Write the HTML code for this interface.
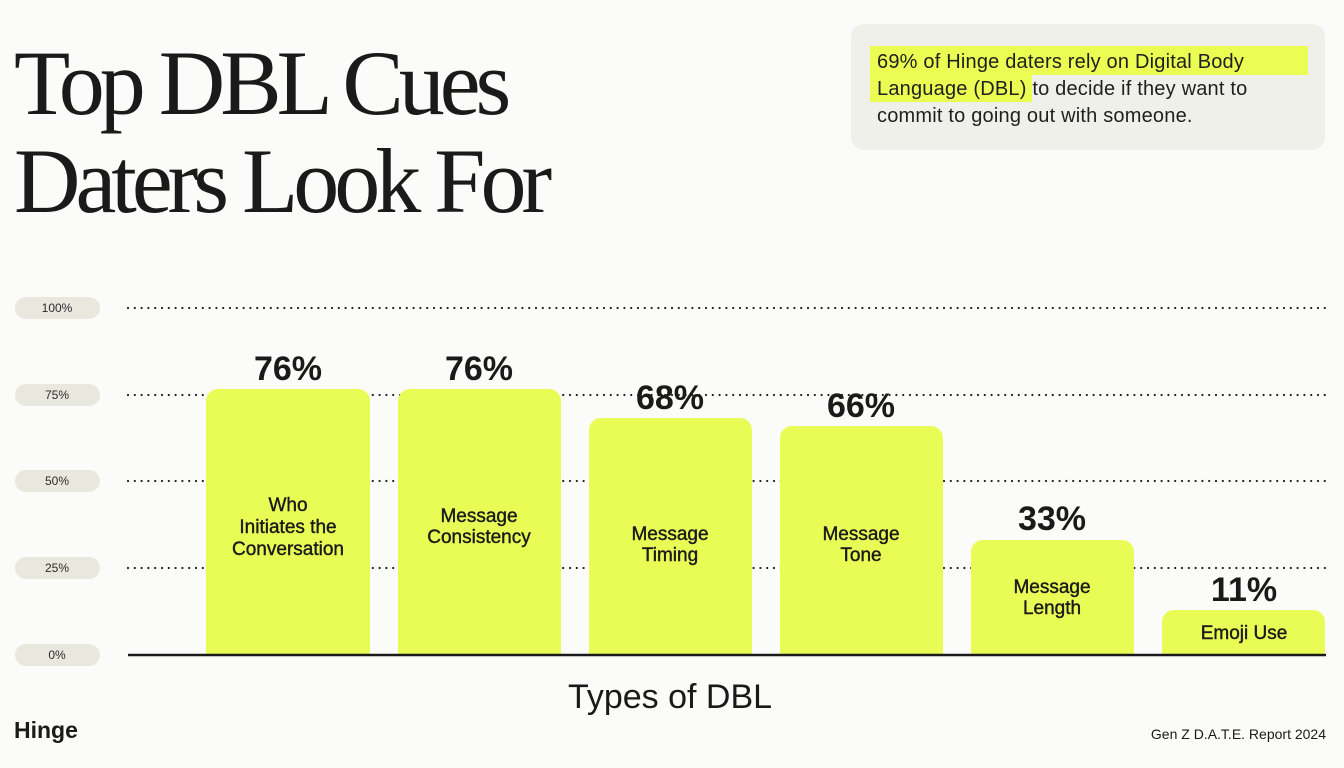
<!DOCTYPE html>
<html><head><meta charset="utf-8"><style>
html,body{margin:0;padding:0;background:#fbfbf9;}
svg{display:block;}
</style></head><body>
<svg width="1344" height="768" viewBox="0 0 1344 768" xmlns="http://www.w3.org/2000/svg" font-family="Liberation Sans, sans-serif">
<rect width="1344" height="768" fill="#fbfbf9"/>
<g font-family="Liberation Serif, serif" font-size="92" fill="#1a1a1a" letter-spacing="-5">
<text x="14" y="114">Top DBL Cues</text>
<text x="14" y="212">Daters Look For</text>
</g>
<rect x="851" y="24" width="474" height="126" rx="13" fill="#f0f0ea"/>
<rect x="870" y="46" width="438" height="29" fill="#ebfc52"/>
<rect x="870" y="74" width="162" height="28" fill="#ebfc52"/>
<g font-size="20" fill="#1f1f1f" letter-spacing="0.2">
<text x="877" y="68">69% of Hinge daters rely on Digital Body</text>
<text x="877" y="95">Language (DBL) to decide if they want to</text>
<text x="877" y="122">commit to going out with someone.</text>
</g>
<g fill="#e8e8df">
<rect x="15" y="297" width="85" height="22" rx="11"/>
<rect x="15" y="384" width="85" height="22" rx="11"/>
<rect x="15" y="470" width="85" height="22" rx="11"/>
<rect x="15" y="557" width="85" height="22" rx="11"/>
<rect x="15" y="644" width="85" height="22" rx="11"/>
</g>
<g font-size="12" fill="#2a2a2a" text-anchor="middle">
<text x="57" y="312">100%</text>
<text x="57" y="399">75%</text>
<text x="57" y="485">50%</text>
<text x="57" y="572">25%</text>
<text x="57" y="659">0%</text>
</g>
<g stroke="#222" stroke-width="2.2" stroke-dasharray="0 6.8" stroke-linecap="round">
<line x1="128" y1="308" x2="1330" y2="308"/>
<line x1="128" y1="395" x2="1330" y2="395"/>
<line x1="128" y1="481" x2="1330" y2="481"/>
<line x1="128" y1="568" x2="1330" y2="568"/>
</g>
<g fill="#e9fc55">
<path d="M206 655V401a12 12 0 0 1 12-12h140a12 12 0 0 1 12 12V655z"/>
<path d="M398 655V401a12 12 0 0 1 12-12h139a12 12 0 0 1 12 12V655z"/>
<path d="M589 655V430a12 12 0 0 1 12-12h139a12 12 0 0 1 12 12V655z"/>
<path d="M780 655V438a12 12 0 0 1 12-12h139a12 12 0 0 1 12 12V655z"/>
<path d="M971 655V552a12 12 0 0 1 12-12h139a12 12 0 0 1 12 12V655z"/>
<path d="M1162 655V622a12 12 0 0 1 12-12h139a12 12 0 0 1 12 12V655z"/>
</g>
<line x1="128" y1="655" x2="1326" y2="655" stroke="#1a1a1a" stroke-width="2.5"/>
<g font-size="34" font-weight="bold" fill="#1a1a1a" text-anchor="middle">
<text x="288" y="380">76%</text>
<text x="479" y="380">76%</text>
<text x="670" y="409">68%</text>
<text x="861" y="417">66%</text>
<text x="1052" y="530">33%</text>
<text x="1244" y="601">11%</text>
</g>
<g font-size="19" fill="#1a1a1a" text-anchor="middle" stroke="#1a1a1a" stroke-width="0.4">
<text x="288" y="511">Who</text>
<text x="288" y="533">Initiates the</text>
<text x="288" y="555">Conversation</text>
<text x="479" y="522">Message</text>
<text x="479" y="543">Consistency</text>
<text x="670" y="540">Message</text>
<text x="670" y="561">Timing</text>
<text x="861" y="540">Message</text>
<text x="861" y="561">Tone</text>
<text x="1052" y="593">Message</text>
<text x="1052" y="614">Length</text>
<text x="1244" y="639">Emoji Use</text>
</g>
<text x="670" y="708" font-size="34" fill="#1a1a1a" text-anchor="middle">Types of DBL</text>
<text x="14" y="738" font-size="23" font-weight="bold" fill="#1a1a1a">Hinge</text>
<text x="1326" y="739" font-size="14" fill="#1a1a1a" text-anchor="end">Gen Z D.A.T.E. Report 2024</text>
</svg>
</body></html>
